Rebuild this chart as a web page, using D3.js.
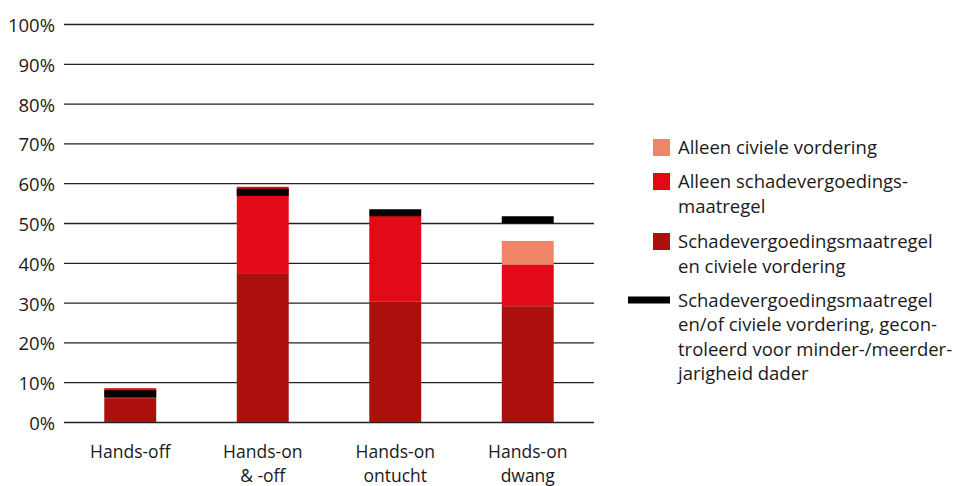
<!DOCTYPE html>
<html>
<head>
<meta charset="utf-8">
<script src="https://cdn.jsdelivr.net/npm/d3@7"></script>
<style>
  html, body { margin: 0; padding: 0; background: #fff; }
  svg { display: block; }
  text { font-family: "Open Sans", sans-serif; fill: #1a1a1a; }
</style>
</head>
<body>
<script>
// ---- data ----
const categories = ["Hands-off", "Hands-on\n& -off", "Hands-on\nontucht", "Hands-on\ndwang"];
const bothMeasures = [6.0, 37.4, 30.2, 29.1];      // Schadevergoedingsmaatregel en civiele vordering
const onlyMeasure = [2.5, 21.7, 21.6, 10.5];       // Alleen schadevergoedingsmaatregel
const onlyCivil = [0, 0, 0, 5.9];                  // Alleen civiele vordering
const controlled = [7.1, 57.7, 52.6, 50.8];        // gecontroleerd voor minder-/meerderjarigheid
const yTicks = [0, 10, 20, 30, 40, 50, 60, 70, 80, 90, 100];

const seriesKeys = ["both", "measure", "civil"];
const seriesColors = { both: "#ab100c", measure: "#e20a17", civil: "#f08466" };
const legendItems = [
  { type: "rect", color: "#f08466", lines: ["Alleen civiele vordering"] },
  { type: "rect", color: "#e20a17", lines: ["Alleen schadevergoedings-", "maatregel"] },
  { type: "rect", color: "#ab100c", lines: ["Schadevergoedingsmaatregel", "en civiele vordering"] },
  { type: "line", color: "#000", lines: ["Schadevergoedingsmaatregel", "en/of civiele vordering, gecon-", "troleerd voor minder-/meerder-", "jarigheid dader"] }
];

const W = 956, H = 486;
const svg = d3.select("body").append("svg").attr("width", W).attr("height", H);

const x = d3.scaleBand().domain(categories).range([64, 594]).paddingInner(0.608).paddingOuter(0.304);
const y = d3.scaleLinear().domain([0, 100]).range([422, 24]);

// gridlines + y labels via axis
const yAxis = d3.axisLeft(y).tickValues(yTicks).tickFormat(d => d + "%").tickSize(-(594 - 64)).tickPadding(9);
const gy = svg.append("g").attr("transform", "translate(64,0)").call(yAxis);
gy.select(".domain").remove();
gy.selectAll(".tick line").attr("stroke", "#222").attr("stroke-width", 1.3);
gy.selectAll(".tick text").attr("font-size", 18.5).attr("font-family", "'Open Sans', sans-serif").attr("fill", "#1a1a1a").attr("dy", "0.4em");

// stacked bars
const rows = categories.map((c, i) => ({ cat: c, both: bothMeasures[i], measure: onlyMeasure[i], civil: onlyCivil[i] }));
const stacked = d3.stack().keys(seriesKeys)(rows);
svg.append("g").selectAll("g").data(stacked).join("g")
  .attr("fill", d => seriesColors[d.key])
  .selectAll("rect").data(d => d).join("rect")
  .attr("x", d => x(d.data.cat))
  .attr("width", x.bandwidth())
  .attr("y", d => y(d[1]))
  .attr("height", d => Math.max(0, y(d[0]) - y(d[1])));

// controlled markers
svg.append("g").selectAll("line").data(categories).join("line")
  .attr("x1", c => x(c))
  .attr("x2", c => x(c) + x.bandwidth())
  .attr("y1", (c, i) => y(controlled[i]))
  .attr("y2", (c, i) => y(controlled[i]))
  .attr("stroke", "#000").attr("stroke-width", 7);

// x labels
const xl = svg.append("g").selectAll("text").data(categories).join("text")
  .attr("x", c => x(c) + x.bandwidth() / 2)
  .attr("y", 458)
  .attr("text-anchor", "middle")
  .attr("font-size", 17.5);
xl.each(function(c) {
  const parts = c.split("\n");
  d3.select(this).selectAll("tspan").data(parts).join("tspan")
    .attr("x", x(c) + x.bandwidth() / 2)
    .attr("dy", (p, i) => i === 0 ? 0 : 24)
    .text(p => p);
});

// legend
const legendTop = [147.5, 181.5, 241.5, 300];
const lg = svg.append("g");
legendItems.forEach((it, i) => {
  const cy = legendTop[i];
  if (it.type === "rect") {
    lg.append("rect").attr("x", 653).attr("y", cy - 8.5).attr("width", 17).attr("height", 17).attr("fill", it.color);
  } else {
    lg.append("line").attr("x1", 628).attr("x2", 670).attr("y1", cy).attr("y2", cy).attr("stroke", it.color).attr("stroke-width", 7);
  }
  const t = lg.append("text").attr("x", 678).attr("y", cy + 6.5).attr("font-size", 18.5);
  it.lines.forEach((ln, j) => {
    t.append("tspan").attr("x", 678).attr("dy", j === 0 ? 0 : 24.6).text(ln);
  });
});
</script>
</body>
</html>
